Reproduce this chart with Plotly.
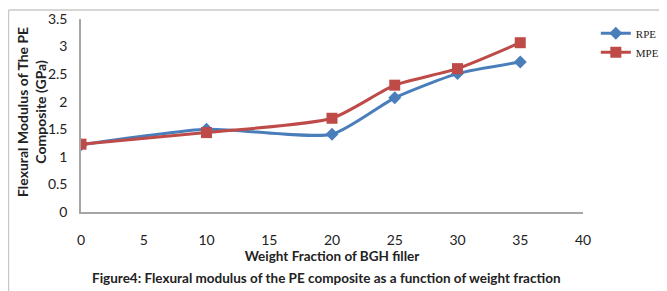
import plotly.graph_objects as go

weight_fraction = [0, 10, 20, 25, 30, 35]
rpe = [1.22, 1.50, 1.41, 2.07, 2.51, 2.72]
mpe = [1.23, 1.44, 1.70, 2.30, 2.60, 3.07]
x_ticks = [0, 5, 10, 15, 20, 25, 30, 35, 40]
y_ticks = [0, 0.5, 1, 1.5, 2, 2.5, 3, 3.5]
y_tick_text = ["0", "0.5", "1", "1.5", "2", "2.5", "3", "3.5"]

FONT = "Lato, Open Sans, sans-serif"

fig = go.Figure()
fig.add_trace(go.Scatter(x=weight_fraction, y=rpe, name="RPE", mode="lines+markers",
                         line=dict(color="#4A7EBB", width=3, shape="spline", smoothing=0.6),
                         marker=dict(symbol="diamond", size=10, color="#4A7EBB")))
fig.add_trace(go.Scatter(x=weight_fraction, y=mpe, name="MPE", mode="lines+markers",
                         line=dict(color="#BE4B48", width=3, shape="spline", smoothing=0.6),
                         marker=dict(symbol="square", size=11, color="#BE4B48")))

# page has an 8px body margin, so the figure is 8px smaller and offset by 8px
fig.update_layout(
    width=659, height=283,
    margin=dict(l=73, r=84, t=11, b=79),
    paper_bgcolor="white", plot_bgcolor="white",
    font=dict(family=FONT, size=14, color="#222"),
    xaxis=dict(range=[0, 40], tickvals=x_ticks, showgrid=False, zeroline=False,
               showline=True, linecolor="#A6A6A6", linewidth=1.5, ticks="",
               ticklabelstandoff=14, automargin=False, tickfont=dict(size=14),
               title=dict(text="<b>Weight Fraction of BGH filler</b>", standoff=5,
                          font=dict(size=13.5))),
    yaxis=dict(range=[0, 3.5], tickvals=y_ticks, ticktext=y_tick_text, showgrid=False,
               zeroline=False, showline=True, linecolor="#A6A6A6", linewidth=1.5, ticks="",
               ticklabelstandoff=9, automargin=False, tickfont=dict(size=14)),
    legend=dict(xref="container", yref="container", x=0.892, y=0.962,
                xanchor="left", yanchor="top",
                font=dict(family="Liberation Serif, serif", size=11, color="#222"),
                tracegroupgap=0, itemwidth=30, bgcolor="rgba(0,0,0,0)"),
    showlegend=True,
)

fig.add_annotation(text="<b>Flexural Modulus of The PE<br>Composite (GPa)</b>",
                   xref="paper", yref="paper", x=-0.0996, y=0.518, textangle=-90,
                   xanchor="center", yanchor="middle", showarrow=False,
                   font=dict(size=14, color="#222"))

fig.add_annotation(text="<b>Figure4: Flexural modulus of the PE composite as a function of weight fraction</b>",
                   xref="paper", yref="paper", x=0.49, y=-0.342, xanchor="center", yanchor="middle",
                   showarrow=False, font=dict(size=13.5, color="#222"))

# frame lines (left and top edges visible in reference)
fig.add_shape(type="line", xref="paper", yref="paper", x0=-0.1445, x1=-0.1445, y0=-0.42, y1=1.047,
              line=dict(color="#C8C8C8", width=1.5))
fig.add_shape(type="line", xref="paper", yref="paper", x0=-0.1445, x1=1.17, y0=1.047, y1=1.047,
              line=dict(color="#C8C8C8", width=1.5))

fig.write_html("out.html")
